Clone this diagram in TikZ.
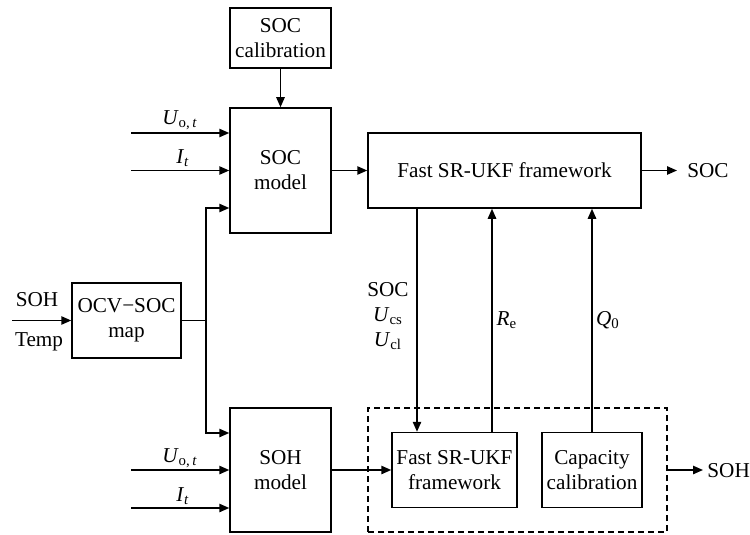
\documentclass[tikz,border=0pt]{standalone}
\usepackage{fontspec}
\setmainfont{Liberation Serif}
\usetikzlibrary{arrows.meta,calc}
\begin{document}
\begin{tikzpicture}[x=0.5pt,y=-0.5pt,
 font=\fontsize{10.6}{12.5}\selectfont,
 blk/.style={draw, line width=0.75pt, inner sep=0pt, align=center},
 arr/.style={-{Triangle[length=5pt,width=4.2pt]}, line width=0.75pt},
 ln/.style={line width=0.75pt},
 lbl/.style={inner sep=0pt}]
\useasboundingbox (0,0) rectangle (750,535);
% blocks
\node[blk, minimum width=50.5pt, minimum height=30pt] (cal) at (280.5,38) {SOC\\calibration};
\node[blk, minimum width=50.5pt, minimum height=62.5pt] (socm) at (280.5,170.5) {SOC\\model};
\node[blk, minimum width=136.5pt, minimum height=37.5pt] (fast) at (504.5,170.5) {Fast SR-UKF framework};
\node[blk, minimum width=54.5pt, minimum height=37.5pt] (ocv) at (126.5,320.5) {OCV−SOC\\map};
\node[blk, minimum width=50.5pt, minimum height=62pt] (sohm) at (280.5,470) {SOH\\model};
\node[draw, dash pattern=on 3pt off 2pt, line width=0.75pt, minimum width=149.5pt, minimum height=62pt, inner sep=0pt] (dbox) at (517.5,470) {};
\node[blk, minimum width=62.5pt, minimum height=37.5pt] (sfast) at (454.5,470) {Fast SR-UKF\\framework};
\node[blk, minimum width=50pt, minimum height=37.5pt] (cap) at (592,470) {Capacity\\calibration};
% free ends
\coordinate (inU1) at (131,133);
\coordinate (inI1) at (131,170.5);
\coordinate (inU2) at (131,470);
\coordinate (inI2) at (131,508);
\coordinate (inS) at (12,320.5);
\coordinate (jn) at (206,320.5);
\coordinate (outS) at (677,170.5);
\coordinate (outH) at (703,470);
\coordinate (va) at (417,0);
\coordinate (vb) at (492,0);
% connectors
\draw[arr] (cal.south) -- (socm.north);
\draw[arr] (inU1) -- (inU1 -| socm.west);
\draw[arr] (inI1) -- (inI1 -| socm.west);
\draw[arr] (socm.east) -- (fast.west);
\draw[arr] (fast.east) -- (outS);
\draw[arr] (inS) -- (inS -| ocv.west);
\draw[ln] (ocv.east |- jn) -- (jn);
\draw[arr] (jn) |- ($(socm.west)+(0,37.5)$);
\draw[arr] (jn) |- ($(sohm.west)+(0,-37)$);
\draw[arr] (inU2) -- (inU2 -| sohm.west);
\draw[arr] (inI2) -- (inI2 -| sohm.west);
\draw[arr] (sohm.east) -- (sfast.west);
\draw[arr] (dbox.east) -- (outH);
\draw[arr] (fast.south -| va) -- (sfast.north -| va);
\draw[arr] (sfast.north -| vb) -- (fast.south -| vb);
\draw[arr] (cap.north) -- (cap.north |- fast.south);
% labels
\node[lbl] (lU1) at (180,120) {\textit{U}\textsubscript{o,\,\textit{t}}};
\node[lbl] (lI1) at (183,158) {\textit{I}\textsubscript{\textit{t}}};
\node[lbl] (lU2) at (180,458) {\textit{U}\textsubscript{o,\,\textit{t}}};
\node[lbl] (lI2) at (183,496) {\textit{I}\textsubscript{\textit{t}}};
\node[lbl] (lsoh) at (37,300) {SOH};
\node[lbl] (ltemp) at (39,342) {Temp};
\node[lbl, anchor=west] (lsoc) at (687,171) {SOC};
\node[lbl, anchor=west] (lsohout) at (707,471) {SOH};
\node[lbl, align=center] (lmid) at (388,316) {SOC\\\textit{U}\textsubscript{cs}\\\textit{U}\textsubscript{cl}};
\node[lbl] (lre) at (507,320) {\textit{R}\textsubscript{e}};
\node[lbl] (lq) at (608,320) {\textit{Q}\textsubscript{0}};
\end{tikzpicture}
\end{document}
